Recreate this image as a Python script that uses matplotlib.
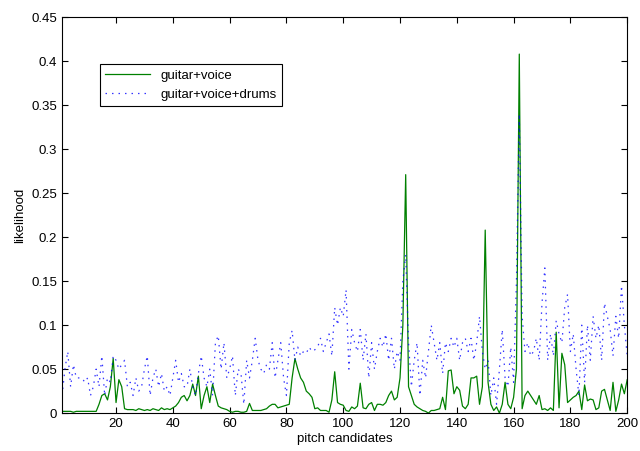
import numpy as np
import matplotlib
matplotlib.use('Agg')
import matplotlib.pyplot as plt

plt.rcParams['font.family'] = ['Liberation Sans', 'DejaVu Sans']

# pitch candidate index 1..200
pitch = np.arange(1, 201)

guitar_voice = [
    0.002, 0.002, 0.002, 0.002, 0.001, 0.002, 0.002, 0.002, 0.002, 0.002,   # 1-10
    0.002, 0.002, 0.002, 0.010, 0.020, 0.022, 0.015, 0.030, 0.062, 0.012,   # 11-20
    0.038, 0.030, 0.005, 0.004, 0.004, 0.004, 0.003, 0.005, 0.004, 0.003,   # 21-30
    0.004, 0.003, 0.005, 0.004, 0.003, 0.006, 0.004, 0.005, 0.004, 0.006,   # 31-40
    0.008, 0.012, 0.018, 0.020, 0.014, 0.020, 0.033, 0.020, 0.042, 0.005,   # 41-50
    0.020, 0.030, 0.012, 0.033, 0.020, 0.008, 0.006, 0.005, 0.004, 0.002,   # 51-60
    0.001, 0.002, 0.002, 0.001, 0.001, 0.002, 0.011, 0.003, 0.003, 0.003,   # 61-70
    0.003, 0.004, 0.005, 0.008, 0.010, 0.010, 0.006, 0.007, 0.008, 0.009,   # 71-80
    0.010, 0.040, 0.062, 0.050, 0.040, 0.035, 0.025, 0.022, 0.018, 0.005,   # 81-90
    0.006, 0.003, 0.003, 0.003, 0.001, 0.015, 0.047, 0.012, 0.010, 0.009,   # 91-100
    0.003, 0.002, 0.007, 0.005, 0.008, 0.034, 0.006, 0.005, 0.010, 0.012,   # 101-110
    0.003, 0.010, 0.010, 0.009, 0.012, 0.020, 0.025, 0.015, 0.018, 0.040,   # 111-120
    0.100, 0.271, 0.030, 0.020, 0.010, 0.007, 0.005, 0.003, 0.002, 0.000,   # 121-130
    0.003, 0.003, 0.004, 0.005, 0.018, 0.004, 0.048, 0.049, 0.022, 0.030,   # 131-140
    0.026, 0.008, 0.005, 0.010, 0.040, 0.040, 0.042, 0.010, 0.030, 0.208,   # 141-150
    0.035, 0.010, 0.003, 0.007, 0.000, 0.010, 0.035, 0.010, 0.005, 0.018,   # 151-160
    0.050, 0.408, 0.005, 0.020, 0.025, 0.020, 0.015, 0.010, 0.020, 0.004,   # 161-170
    0.005, 0.003, 0.006, 0.003, 0.092, 0.006, 0.068, 0.055, 0.012, 0.015,   # 171-180
    0.018, 0.020, 0.025, 0.004, 0.032, 0.014, 0.016, 0.015, 0.004, 0.006,   # 181-190
    0.025, 0.027, 0.015, 0.003, 0.035, 0.002, 0.015, 0.033, 0.022, 0.038,   # 191-200
]

guitar_voice_drums = [
    0.020, 0.050, 0.070, 0.030, 0.055, 0.040, 0.040, 0.040, 0.035, 0.040,   # 1-10
    0.020, 0.030, 0.050, 0.030, 0.065, 0.020, 0.040, 0.035, 0.065, 0.060,   # 11-20
    0.050, 0.055, 0.060, 0.030, 0.035, 0.020, 0.040, 0.025, 0.030, 0.050,   # 21-30
    0.065, 0.020, 0.040, 0.050, 0.030, 0.045, 0.025, 0.030, 0.020, 0.040,   # 31-40
    0.060, 0.035, 0.045, 0.030, 0.030, 0.050, 0.030, 0.020, 0.045, 0.065,   # 41-50
    0.040, 0.030, 0.050, 0.020, 0.080, 0.088, 0.050, 0.080, 0.040, 0.050,   # 51-60
    0.065, 0.020, 0.050, 0.045, 0.010, 0.060, 0.040, 0.060, 0.085, 0.060,   # 61-70
    0.050, 0.045, 0.055, 0.050, 0.080, 0.040, 0.060, 0.080, 0.040, 0.020,   # 71-80
    0.080, 0.094, 0.060, 0.075, 0.065, 0.070, 0.068, 0.075, 0.070, 0.072,   # 81-90
    0.075, 0.085, 0.070, 0.080, 0.090, 0.065, 0.120, 0.100, 0.120, 0.110,   # 91-100
    0.140, 0.050, 0.095, 0.080, 0.070, 0.095, 0.060, 0.090, 0.040, 0.080,   # 101-110
    0.050, 0.070, 0.085, 0.075, 0.090, 0.060, 0.085, 0.050, 0.070, 0.060,   # 111-120
    0.150, 0.180, 0.080, 0.030, 0.060, 0.080, 0.020, 0.060, 0.040, 0.070,   # 121-130
    0.100, 0.080, 0.060, 0.080, 0.045, 0.080, 0.070, 0.085, 0.075, 0.085,   # 131-140
    0.060, 0.080, 0.085, 0.070, 0.085, 0.060, 0.080, 0.110, 0.070, 0.050,   # 141-150
    0.060, 0.020, 0.040, 0.010, 0.050, 0.095, 0.040, 0.030, 0.075, 0.035,   # 151-160
    0.150, 0.340, 0.110, 0.070, 0.080, 0.065, 0.070, 0.085, 0.060, 0.125,   # 161-170
    0.165, 0.060, 0.090, 0.065, 0.105, 0.090, 0.080, 0.120, 0.135, 0.070,   # 171-180
    0.090, 0.050, 0.020, 0.100, 0.035, 0.100, 0.060, 0.110, 0.085, 0.100,   # 181-190
    0.060, 0.125, 0.110, 0.095, 0.065, 0.110, 0.085, 0.145, 0.100, 0.065,   # 191-200
]

x_ticks = [20, 40, 60, 80, 100, 120, 140, 160, 180, 200]
y_ticks = [0, 0.05, 0.1, 0.15, 0.2, 0.25, 0.3, 0.35, 0.4, 0.45]
y_labels = ['0', '0.05', '0.1', '0.15', '0.2', '0.25', '0.3', '0.35', '0.4', '0.45']

fig = plt.figure(figsize=(6.4, 4.51), dpi=100)
ax = fig.add_axes([0.097, 0.084, 0.883, 0.878])

ax.plot(pitch, guitar_voice, color='#008000', linewidth=0.9, label='guitar+voice')
# sparse MATLAB-like dotted line
ax.plot(pitch, guitar_voice_drums, color='blue', linestyle=(0, (1.2, 4.0)),
        linewidth=0.9, alpha=0.8, label='guitar+voice+drums')

ax.set_xlim(1, 200)
ax.set_ylim(0, 0.45)
ax.set_xticks(x_ticks)
ax.set_yticks(y_ticks)
ax.set_yticklabels(y_labels)
ax.tick_params(direction='in', top=True, right=True, labelsize=9.5, length=4)
ax.set_xlabel('pitch candidates', fontsize=9.5, labelpad=2)
ax.set_ylabel('likelihood', fontsize=9.5)

leg = ax.legend(loc='upper left', bbox_to_anchor=(0.067, 0.881), borderaxespad=0,
                fontsize=9.5, fancybox=False, framealpha=1, edgecolor='black',
                handlelength=3.4)
leg.get_frame().set_linewidth(0.8)

fig.savefig('out.png', dpi=100)
